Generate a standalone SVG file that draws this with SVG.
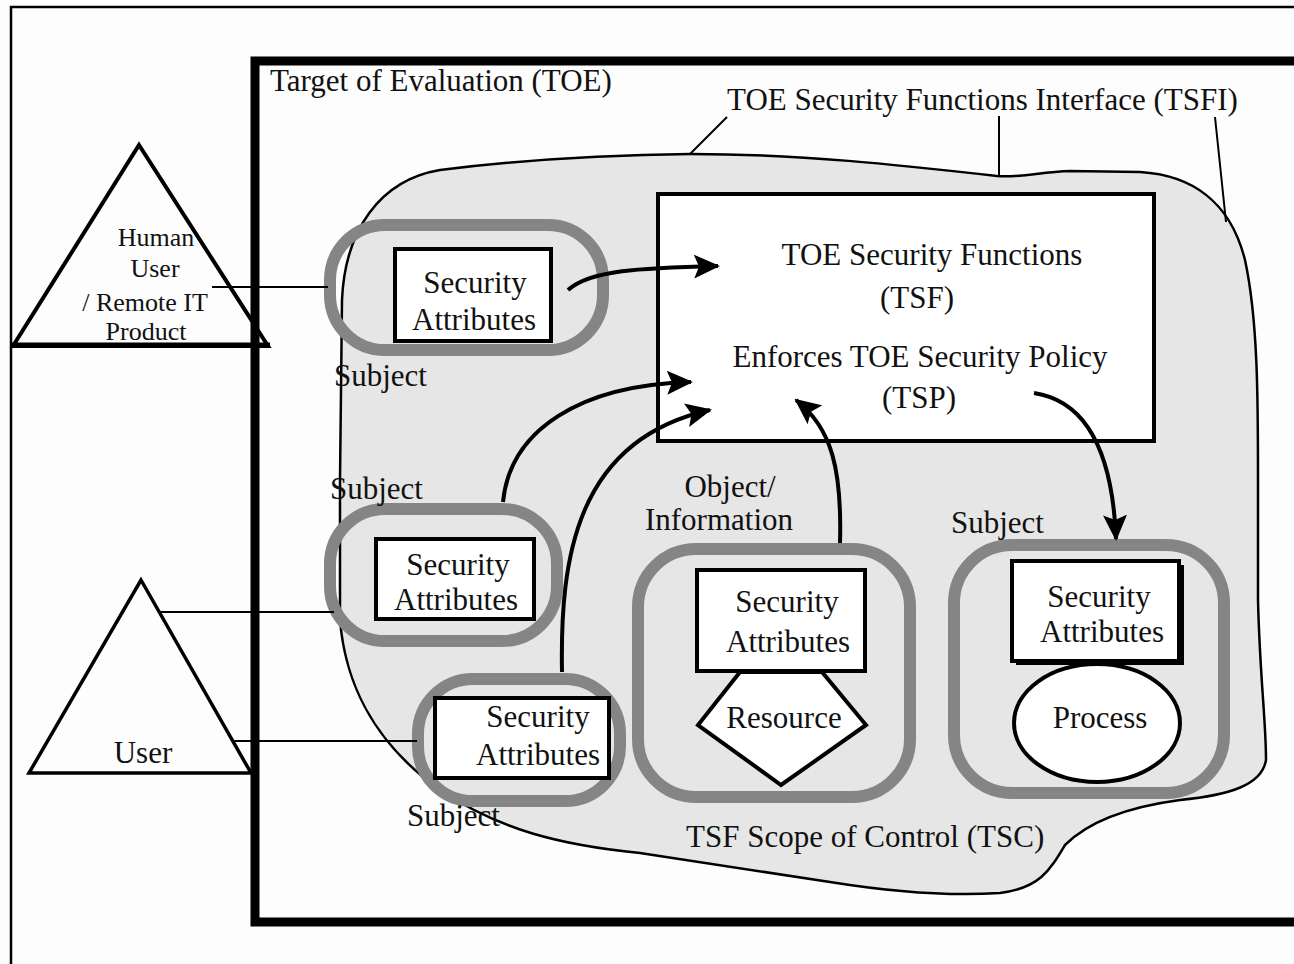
<svg xmlns="http://www.w3.org/2000/svg" width="1294" height="964" viewBox="0 0 1294 964">
<defs>
<marker id="ah" markerUnits="userSpaceOnUse" markerWidth="26" markerHeight="24" viewBox="0 0 26 24" refX="24" refY="12" orient="auto">
<path d="M0,0 L26,12 L0,24 L5,12 Z" fill="#000"/>
</marker>
</defs>
<style>
text{font-family:"Liberation Serif","Times New Roman",serif;font-size:31px;fill:#111;}
.c{text-anchor:middle;}
.sm{font-size:26px;}
.ring{fill:none;stroke:#858585;stroke-width:12;}
.box{fill:#fff;stroke:#000;stroke-width:4;}
.ln{fill:none;stroke:#000;stroke-width:2;}
.arr{fill:none;stroke:#000;stroke-width:4;marker-end:url(#ah);}
</style>
<rect x="0" y="0" width="1294" height="964" fill="#fdfdfd"/>
<g id="frame"><rect x="11" y="7" width="1400" height="1000" fill="none" stroke="#000" stroke-width="2.5"/></g>
<g id="toe">
<rect x="255" y="61" width="1100" height="861" fill="none" stroke="#000" stroke-width="9"/>
<text x="270" y="91">Target of Evaluation (TOE)</text>
</g>
<g id="tsc">
<path d="M340,480 L342,300 C345,230 380,180 440,170 C520,160 600,155 690,154 C800,154 900,165 997,176 C1020,178 1040,172 1070,171 L1140,172 C1190,175 1230,200 1245,260 C1258,320 1258,400 1258,480 L1258,600 C1260,680 1266,720 1266,760 C1262,785 1230,795 1180,800 C1120,808 1085,825 1065,845 C1050,870 1040,888 1000,893 C940,897 880,890 830,882 L640,853 C560,845 500,830 440,790 C370,740 345,680 340,620 Z" fill="#e6e6e6" stroke="#000" stroke-width="2.5"/>
<text x="686" y="847">TSF Scope of Control (TSC)</text>
</g>
<g id="tsfi">
<text x="727" y="110">TOE Security Functions Interface (TSFI)</text>
<path class="ln" d="M727,117 L690,154 M999,116 L999,176 M1215,117 L1226,222"/>
</g>
<g id="tsf">
<rect x="658" y="194" width="496" height="247" class="box" stroke-width="5"/>
<text class="c" x="932" y="265">TOE Security Functions</text>
<text class="c" x="917" y="308">(TSF)</text>
<text class="c" x="920" y="367">Enforces TOE Security Policy</text>
<text class="c" x="919" y="408">(TSP)</text>
</g>
<g id="subject1">
<rect class="ring" x="330" y="225" width="273" height="125" rx="55"/>
<rect class="box" x="395" y="249" width="156" height="92"/>
<text class="c" x="475" y="293">Security</text>
<text class="c" x="474" y="330">Attributes</text>
<text x="334" y="386">Subject</text>
</g>
<g id="subject2">
<rect class="ring" x="330" y="509" width="227" height="132" rx="55"/>
<rect class="box" x="376" y="539" width="158" height="80"/>
<text class="c" x="458" y="575">Security</text>
<text class="c" x="456" y="610">Attributes</text>
<text x="330" y="499">Subject</text>
</g>
<g id="subject3">
<rect class="ring" x="418" y="679" width="202" height="122" rx="55"/>
<rect class="box" x="435" y="698" width="174" height="80"/>
<text class="c" x="538" y="727">Security</text>
<text class="c" x="538" y="765">Attributes</text>
<text x="407" y="826">Subject</text>
</g>
<g id="object">
<rect class="ring" x="638" y="549" width="272" height="248" rx="58"/>
<rect class="box" x="697" y="570" width="168" height="101"/>
<text class="c" x="787" y="612">Security</text>
<text class="c" x="788" y="652">Attributes</text>
<path d="M740,672 L822,672 L866,725 L781,785 L698,725 Z" fill="#fff" stroke="#000" stroke-width="4"/>
<text class="c" x="784" y="728">Resource</text>
<text class="c" x="730" y="497">Object/</text>
<text class="c" x="719" y="530">Information</text>
</g>
<g id="subject4">
<rect class="ring" x="954" y="545" width="270" height="248" rx="58"/>
<rect x="1016" y="565" width="168" height="100" fill="#000"/>
<rect class="box" x="1012" y="561" width="167" height="100"/>
<text class="c" x="1099" y="607">Security</text>
<text class="c" x="1102" y="642">Attributes</text>
<ellipse cx="1097" cy="723" rx="83" ry="59" fill="#fff" stroke="#000" stroke-width="4"/>
<text class="c" x="1100" y="728">Process</text>
<text x="951" y="533">Subject</text>
</g>
<g id="human">
<path d="M139,145 L268,346 L13,346 Z" fill="none" stroke="#000" stroke-width="4"/>
<line x1="12" y1="345" x2="270" y2="345" stroke="#000" stroke-width="5"/>
<text class="c sm" x="156" y="246">Human</text>
<text class="c sm" x="155" y="277">User</text>
<text class="c sm" x="145" y="311">/ Remote IT</text>
<text class="c sm" x="146" y="340">Product</text>
</g>
<g id="user">
<path d="M141,580 L251,773 L29,773 Z" fill="none" stroke="#000" stroke-width="3.5"/>
<text class="c" x="143" y="763">User</text>
</g>
<g id="connectors">
<line class="ln" x1="212" y1="287" x2="328" y2="287"/>
<line class="ln" x1="160" y1="612" x2="334" y2="612"/>
<line class="ln" x1="234" y1="741" x2="417" y2="741" stroke-width="3"/>
<path class="arr" d="M568,290 C590,270 640,268 718,266"/>
<path class="arr" d="M503,502 C510,430 580,385 691,382"/>
<path class="arr" d="M562,672 C560,560 575,440 710,410"/>
<path class="arr" d="M840,543 C842,470 832,428 796,400"/>
<path class="arr" d="M1034,393 C1080,400 1112,440 1116,539"/>
</g>
</svg>
